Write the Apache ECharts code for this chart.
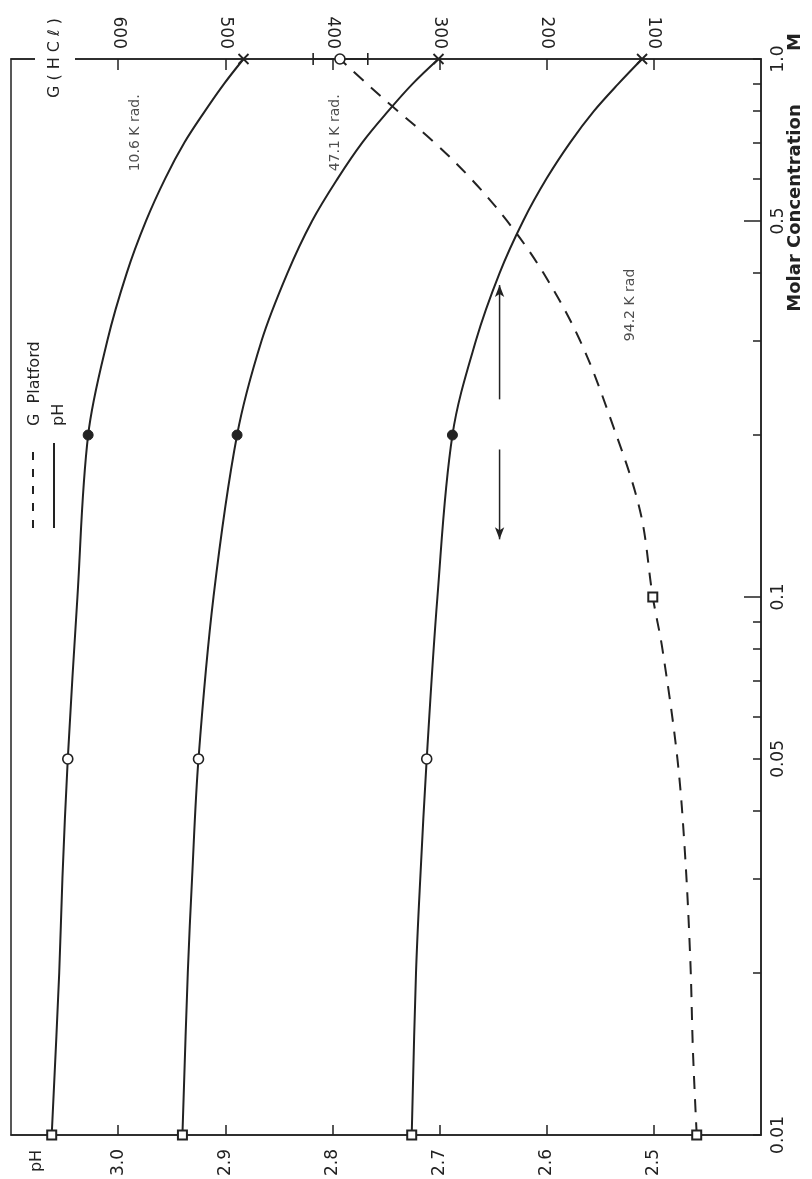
<!DOCTYPE html>
<html>
<head>
<meta charset="utf-8">
<script src="https://cdn.jsdelivr.net/npm/echarts@6/dist/echarts.min.js"></script>
<style>
  html, body { margin: 0; padding: 0; background: #fff; }
  #chart { width: 812px; height: 1179px; }
</style>
</head>
<body>
<div id="chart"></div>
<script>
// Molar concentration (M) along which the pH curves are traced
const concPH = [0.01, 0.02, 0.03, 0.05, 0.1, 0.2, 0.3, 0.4, 0.5, 0.6, 0.7, 0.8, 0.9, 1.0];
// pH after irradiation, one curve per dose
const ph106 = [3.062, 3.055, 3.052, 3.047, 3.038, 3.028, 3.010, 2.992, 2.974, 2.956, 2.938, 2.919, 2.901, 2.883];
const ph471 = [2.940, 2.935, 2.931, 2.925, 2.911, 2.889, 2.866, 2.842, 2.819, 2.795, 2.772, 2.748, 2.725, 2.701];
const ph942 = [2.726, 2.722, 2.718, 2.712, 2.702, 2.688, 2.666, 2.644, 2.622, 2.600, 2.578, 2.556, 2.533, 2.511];
// Concentrations actually measured and the marker used for each
const measuredConc = [0.01, 0.05, 0.2, 1.0];
const measuredShape = ['square', 'open', 'filled', 'cross'];
// Platford's G(HCl) values
const concG = [0.01, 0.0143, 0.0212, 0.0335, 0.05, 0.08, 0.1, 0.145, 0.216, 0.3, 0.4, 0.5, 0.6, 0.7, 0.81, 0.9, 1.0];
const gValues = [60, 63.5, 66, 71, 78, 92, 101, 113, 141, 169, 203, 237, 271, 305, 342, 368, 393];
const gMeasuredConc = [0.01, 0.1, 1.0];
const gMeasuredShape = ['square', 'square', 'open'];
const gErrorBar = [367, 418];
// Dose labels and where they sit (pH, concentration)
const doseNames = ['10.6 K rad.', '47.1 K rad.', '94.2 K rad'];
const doseLabelAt = [[2.984, 0.729], [2.797, 0.729], [2.522, 0.349]];
// Arrows pointing to the axis each family of curves belongs to (G value, concentrations)
const arrowG = 244;
const arrowToG = [0.233, 0.38];
const arrowToPH = [0.188, 0.128];
// Axis labelling
const concLabelValues = [0.01, 0.05, 0.1, 0.5, 1.0];
const concLabelText = ['0.01', '0.05', '0.1', '0.5', '1.0'];
const concTickValues = [0.01, 0.02, 0.03, 0.04, 0.05, 0.06, 0.07, 0.08, 0.09,
                        0.1, 0.2, 0.3, 0.4, 0.5, 0.6, 0.7, 0.8, 0.9, 1.0];
const concLongTicks = [0.1, 0.5];

const INK = '#222';
const FONT = 'DejaVu Sans';

const markerStyles = {
  square: { symbol: 'rect', symbolSize: 9, itemStyle: { color: '#fff', borderColor: INK, borderWidth: 2 } },
  open:   { symbol: 'circle', symbolSize: 10, itemStyle: { color: '#fff', borderColor: INK, borderWidth: 1.6 } },
  filled: { symbol: 'circle', symbolSize: 10, itemStyle: { color: INK, borderColor: INK, borderWidth: 1 } },
  cross:  { symbol: 'path://M0,0L10,10M10,0L0,10', symbolSize: 10,
            itemStyle: { color: 'none', borderColor: INK, borderWidth: 1.8 } }
};

function curveData(concs, values, marked, shapes) {
  return concs.map((c, i) => {
    const item = { value: [values[i], c] };
    const k = marked.indexOf(c);
    if (k < 0) {
      item.symbol = 'none';
    } else {
      Object.assign(item, JSON.parse(JSON.stringify(markerStyles[shapes[k]])));
    }
    return item;
  });
}

function phSeries(name, values) {
  return {
    name, type: 'line', xAxisIndex: 0, yAxisIndex: 0,
    smooth: 0.35, clip: false, showSymbol: true, showAllSymbol: true,
    lineStyle: { color: INK, width: 2 },
    data: curveData(concPH, values, measuredConc, measuredShape),
    z: 3
  };
}

const chart = echarts.init(document.getElementById('chart'), null, { renderer: 'canvas' });

const tickLabel = { fontFamily: FONT, fontSize: 17, color: INK };

chart.setOption({
  animation: false,
  backgroundColor: '#fff',
  grid: { left: 11, right: 51, top: 59, bottom: 43, show: true, borderColor: INK, borderWidth: 1.5, backgroundColor: 'transparent' },
  xAxis: [
    { // pH scale
      type: 'value', position: 'bottom', min: 2.4, max: 3.1, interval: 0.1, inverse: true,
      axisLine: { show: true, lineStyle: { color: INK, width: 1.5 } },
      axisTick: { show: true, inside: true, length: 10, lineStyle: { color: INK, width: 1.5 } },
      axisLabel: Object.assign({ rotate: 90, margin: 14, showMinLabel: false, showMaxLabel: false,
        formatter: v => v.toFixed(1) }, tickLabel),
      splitLine: { show: false }
    },
    { // G(HCl) scale
      type: 'value', position: 'top', min: 0, max: 700, interval: 100, inverse: true,
      axisLine: { show: true, lineStyle: { color: INK, width: 1.5 } },
      axisTick: { show: true, inside: true, length: 11, lineStyle: { color: INK, width: 1.5 } },
      axisLabel: Object.assign({ rotate: 90, margin: 10, showMinLabel: false, showMaxLabel: false }, tickLabel),
      splitLine: { show: false }
    }
  ],
  yAxis: [
    { // molar concentration, logarithmic
      type: 'log', logBase: 10, position: 'right', min: 0.01, max: 1,
      axisLine: { show: true, lineStyle: { color: INK, width: 1.5 } },
      axisTick: { show: true, inside: true, length: 8, customValues: concTickValues, lineStyle: { color: INK, width: 1.5 } },
      axisLabel: Object.assign({ rotate: 90, margin: 9, customValues: concLabelValues,
        formatter: v => {
          for (let i = 0; i < concLabelValues.length; i++) {
            if (Math.abs(v - concLabelValues[i]) < 1e-9) return concLabelText[i];
          }
          return '';
        } }, tickLabel),
      splitLine: { show: false }, minorSplitLine: { show: false }
    },
    { // longer ticks at the decade and half-decade marks
      type: 'log', logBase: 10, position: 'right', min: 0.01, max: 1,
      axisLine: { show: false },
      axisTick: { show: true, inside: true, length: 17, customValues: concLongTicks, lineStyle: { color: INK, width: 1.5 } },
      axisLabel: { show: false },
      splitLine: { show: false }
    }
  ],
  series: [
    phSeries(doseNames[0], ph106),
    phSeries(doseNames[1], ph471),
    phSeries(doseNames[2], ph942),
    {
      name: 'G Platford', type: 'line', xAxisIndex: 1, yAxisIndex: 0,
      smooth: 0.35, clip: false, showSymbol: true, showAllSymbol: true,
      lineStyle: { color: INK, width: 2, type: [13, 10] },
      data: curveData(concG, gValues, gMeasuredConc, gMeasuredShape),
      z: 3
    },
    { // spread of the G value at 1.0 M
      type: 'line', xAxisIndex: 1, yAxisIndex: 0, clip: false,
      lineStyle: { color: INK, width: 1.5 },
      symbol: 'rect', symbolSize: [1.6, 12], itemStyle: { color: INK },
      data: gErrorBar.map(g => [g, 1.0]), z: 2
    },
    { // arrow towards the G scale
      type: 'line', xAxisIndex: 1, yAxisIndex: 0, clip: false,
      lineStyle: { color: INK, width: 1.5 },
      data: [
        { value: [arrowG, arrowToG[0]], symbol: 'none' },
        { value: [arrowG, arrowToG[1]], symbol: 'arrow', symbolSize: [7, 12], itemStyle: { color: INK } }
      ]
    },
    { // arrow towards the pH scale
      type: 'line', xAxisIndex: 1, yAxisIndex: 0, clip: false,
      lineStyle: { color: INK, width: 1.5 },
      data: [
        { value: [arrowG, arrowToPH[0]], symbol: 'none' },
        { value: [arrowG, arrowToPH[1]], symbol: 'arrow', symbolRotate: 180, symbolSize: [7, 12], itemStyle: { color: INK } }
      ]
    },
    { // dose labels
      type: 'scatter', xAxisIndex: 0, yAxisIndex: 0, symbolSize: 1,
      itemStyle: { color: 'rgba(0,0,0,0)' },
      label: { show: true, position: 'inside', rotate: 90, fontFamily: FONT, fontSize: 14, color: INK,
        formatter: p => doseNames[p.dataIndex] },
      data: doseLabelAt.map(p => p.slice())
    }
  ],
  graphic: [
    { type: 'text', x: 55, y: 58, rotation: Math.PI / 2, z: 100,
      style: { text: 'G ( H C ℓ )', font: '16px "DejaVu Sans"', fill: INK, align: 'center', verticalAlign: 'middle',
        backgroundColor: '#fff', padding: [12, 2] } },
    { type: 'text', x: 37, y: 1161, rotation: Math.PI / 2, z: 100,
      style: { text: 'pH', font: '16px "DejaVu Sans"', fill: INK, align: 'center', verticalAlign: 'middle' } },
    { type: 'text', x: 795, y: 208, rotation: Math.PI / 2, z: 100,
      style: { text: 'Molar Concentration', font: 'bold 18px "DejaVu Sans"', fill: INK, align: 'center', verticalAlign: 'middle' } },
    { type: 'text', x: 795, y: 42, rotation: Math.PI / 2, z: 100,
      style: { text: 'M', font: 'bold 18px "DejaVu Sans"', fill: INK, align: 'center', verticalAlign: 'middle' } },
    // legend
    { type: 'line', z: 100, shape: { x1: 33, y1: 528, x2: 33, y2: 443 },
      style: { stroke: INK, lineWidth: 2, lineDash: [8, 9] } },
    { type: 'line', z: 100, shape: { x1: 54, y1: 528, x2: 54, y2: 443 },
      style: { stroke: INK, lineWidth: 2 } },
    { type: 'text', x: 35, y: 426, rotation: Math.PI / 2, z: 100,
      style: { text: 'G  Platford', font: '16px "DejaVu Sans"', fill: INK, align: 'left', verticalAlign: 'middle' } },
    { type: 'text', x: 59, y: 426, rotation: Math.PI / 2, z: 100,
      style: { text: 'pH', font: '16px "DejaVu Sans"', fill: INK, align: 'left', verticalAlign: 'middle' } }
  ]
});
</script>
</body>
</html>
